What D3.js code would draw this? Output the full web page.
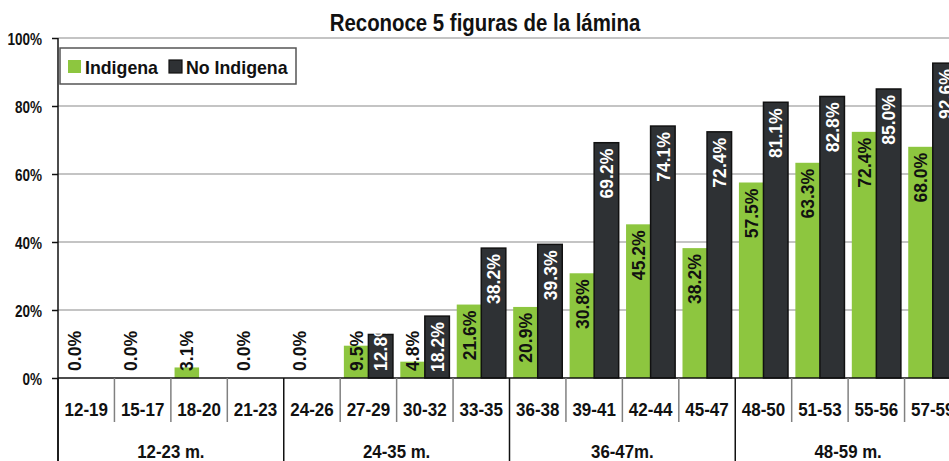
<!DOCTYPE html>
<html>
<head>
<meta charset="utf-8">
<script src="https://cdn.jsdelivr.net/npm/d3@7"></script>
<style>
  html, body { margin: 0; padding: 0; background: #fff; overflow: hidden; }
  svg { display: block; }
  text { font-family: "Liberation Sans", Arial, Helvetica, sans-serif; font-weight: bold; }
</style>
</head>
<body>
<svg id="chart" width="949" height="461"></svg>
<script>
// Age bands (months) and their larger age groups
const categories = ["12-19", "15-17", "18-20", "21-23", "24-26", "27-29", "30-32", "33-35",
                    "36-38", "39-41", "42-44", "45-47", "48-50", "51-53", "55-56", "57-59"];
const groups = ["12-23 m.", "24-35 m.", "36-47m.", "48-59 m."];
const groupSize = [4, 4, 4, 4];
const seriesNames = ["Indigena", "No Indigena"];
// Share that recognises 5 figures, in percent (null = no value)
const indigena = [0.0, 0.0, 3.1, 0.0, 0.0, 9.5, 4.8, 21.6, 20.9, 30.8, 45.2, 38.2, 57.5, 63.3, 72.4, 68.0];
const noIndigena = [null, null, null, null, null, 12.8, 18.2, 38.2, 39.3, 69.2, 74.1, 72.4, 81.1, 82.8, 85.0, 92.6];
const yTicks = [0, 20, 40, 60, 80, 100];

const colors = { "Indigena": "#8dc63f", "No Indigena": "#2e3134" };
const labelColors = { "Indigena": "#111", "No Indigena": "#ffffff" };
const ink = "#111";

const svg = d3.select("#chart");
const W = 949;
const plotLeft = 58, plotRight = 961, plotTop = 38, base = 378;

// Condensed look: horizontal squeeze of the bold sans face
const place = (sel, x, yy, sx, rot) =>
  sel.attr("transform", `translate(${x},${yy})${rot ? " rotate(-90)" : ""} scale(${sx},1)`);

const x0 = d3.scaleBand().domain(categories).range([plotLeft, plotRight]).padding(0);
const x1 = d3.scaleBand().domain(seriesNames).range([0, x0.bandwidth()]).paddingInner(0).paddingOuter(0.15);
const y = d3.scaleLinear().domain([0, 100]).range([base, plotTop]);

// Title
place(svg.append("text").attr("text-anchor", "middle").style("font-size", "24px").style("fill", ink)
  .text("Reconoce 5 figuras de la lámina"), 485, 31, 0.85);

// Gridlines
svg.append("g").selectAll("line").data(yTicks.filter(d => d > 0)).join("line")
  .attr("x1", plotLeft).attr("x2", W).attr("y1", d => y(d)).attr("y2", d => y(d))
  .attr("stroke", "#b0b0b0").attr("stroke-width", 1.5);

// Y axis
const yAxis = d3.axisLeft(y).tickValues(yTicks).tickFormat(d => d + "%").tickSize(6).tickPadding(9);
const gy = svg.append("g").attr("transform", `translate(${plotLeft},0)`).call(yAxis);
gy.select(".domain").remove();
gy.selectAll(".tick line").attr("stroke", ink).attr("stroke-width", 1.5);
gy.selectAll(".tick text").attr("x", null).attr("dy", null)
  .style("fill", ink).style("font-size", "16.5px").style("font-weight", "bold")
  .style("font-family", "'Liberation Sans', Arial, sans-serif")
  .attr("transform", "translate(-16,6) scale(0.82,1)");

// Rows of bar data
const rows = categories.map((c, i) => ({ cat: c, vals: [
  { s: "Indigena", v: indigena[i] }, { s: "No Indigena", v: noIndigena[i] }
].filter(d => d.v !== null) }));

const catG = svg.append("g").selectAll("g").data(rows).join("g")
  .attr("transform", d => `translate(${x0(d.cat)},0)`);

catG.selectAll("rect").data(d => d.vals).join("rect")
  .attr("x", d => x1(d.s)).attr("width", x1.bandwidth())
  .attr("y", d => y(d.v)).attr("height", d => base - y(d.v))
  .attr("fill", d => colors[d.s])
  .attr("stroke", d => d.s === "No Indigena" ? "#111" : "none")
  .attr("stroke-width", 1.5);

// Value labels, rotated, inside the top of the bar (or from the base when the bar is short)
const valSx = 0.95;
catG.selectAll("text.val").data(d => d.vals).join("text").attr("class", "val")
  .style("font-size", "18.5px")
  .style("fill", d => labelColors[d.s])
  .attr("dy", "0.36em")
  .text(d => d.v.toFixed(1) + "%")
  .each(function (d) {
    const len = this.getComputedTextLength() * valSx;
    const h = base - y(d.v);
    const cx = x1(d.s) + x1.bandwidth() / 2;
    const pad = 6;
    const sel = d3.select(this);
    if (h >= len + pad * 2) {
      place(sel.attr("text-anchor", "end"), cx, y(d.v) + pad, valSx, true);
    } else {
      place(sel.attr("text-anchor", "start"), cx, base - 7, valSx, true);
    }
  });

// Category axis: baseline, dividers, labels
svg.append("line").attr("x1", plotLeft).attr("x2", W).attr("y1", base).attr("y2", base)
  .attr("stroke", ink).attr("stroke-width", 1.5);

const groupStarts = [];
let acc = 0;
groupSize.forEach(n => { groupStarts.push(acc); acc += n; });

const bounds = d3.range(categories.length + 1);
const isGroupEdge = i => groupStarts.includes(i) || i === categories.length;
svg.append("g").selectAll("line").data(bounds).join("line")
  .attr("x1", i => plotLeft + i * x0.step()).attr("x2", i => plotLeft + i * x0.step())
  .attr("y1", base)
  .attr("y2", i => isGroupEdge(i) ? 461 : 422)
  .attr("stroke", i => isGroupEdge(i) ? ink : "#808080")
  .attr("stroke-width", 1.5);

// Y axis line
svg.append("line").attr("x1", plotLeft).attr("x2", plotLeft).attr("y1", plotTop).attr("y2", 461)
  .attr("stroke", ink).attr("stroke-width", 1.5);

svg.append("g").selectAll("text").data(categories).join("text")
  .attr("text-anchor", "middle").style("font-size", "18.5px").style("fill", ink)
  .text(d => d)
  .each(function (d) { place(d3.select(this), x0(d) + x0.bandwidth() / 2, 416, 0.92); });

svg.append("g").selectAll("text").data(groups).join("text")
  .attr("text-anchor", "middle").style("font-size", "18.5px").style("fill", ink)
  .text(d => d)
  .each(function (d, i) {
    place(d3.select(this), plotLeft + (groupStarts[i] + groupSize[i] / 2) * x0.step(), 458, 0.91);
  });

// Legend
const lg = svg.append("g");
lg.append("rect").attr("x", 60).attr("y", 48).attr("width", 236).attr("height", 36)
  .attr("fill", "#fff").attr("stroke", "#555").attr("stroke-width", 1.5);
const items = [{ s: "Indigena", sx: 68, tx: 85 }, { s: "No Indigena", sx: 169, tx: 186 }];
items.forEach(it => {
  lg.append("rect").attr("x", it.sx).attr("y", 60).attr("width", 13).attr("height", 13)
    .attr("fill", colors[it.s])
    .attr("stroke", it.s === "No Indigena" ? "#111" : "none").attr("stroke-width", 1.2);
  place(lg.append("text").style("font-size", "18.5px").style("fill", ink).text(it.s), it.tx, 73.5, 0.96);
});
</script>
</body>
</html>
